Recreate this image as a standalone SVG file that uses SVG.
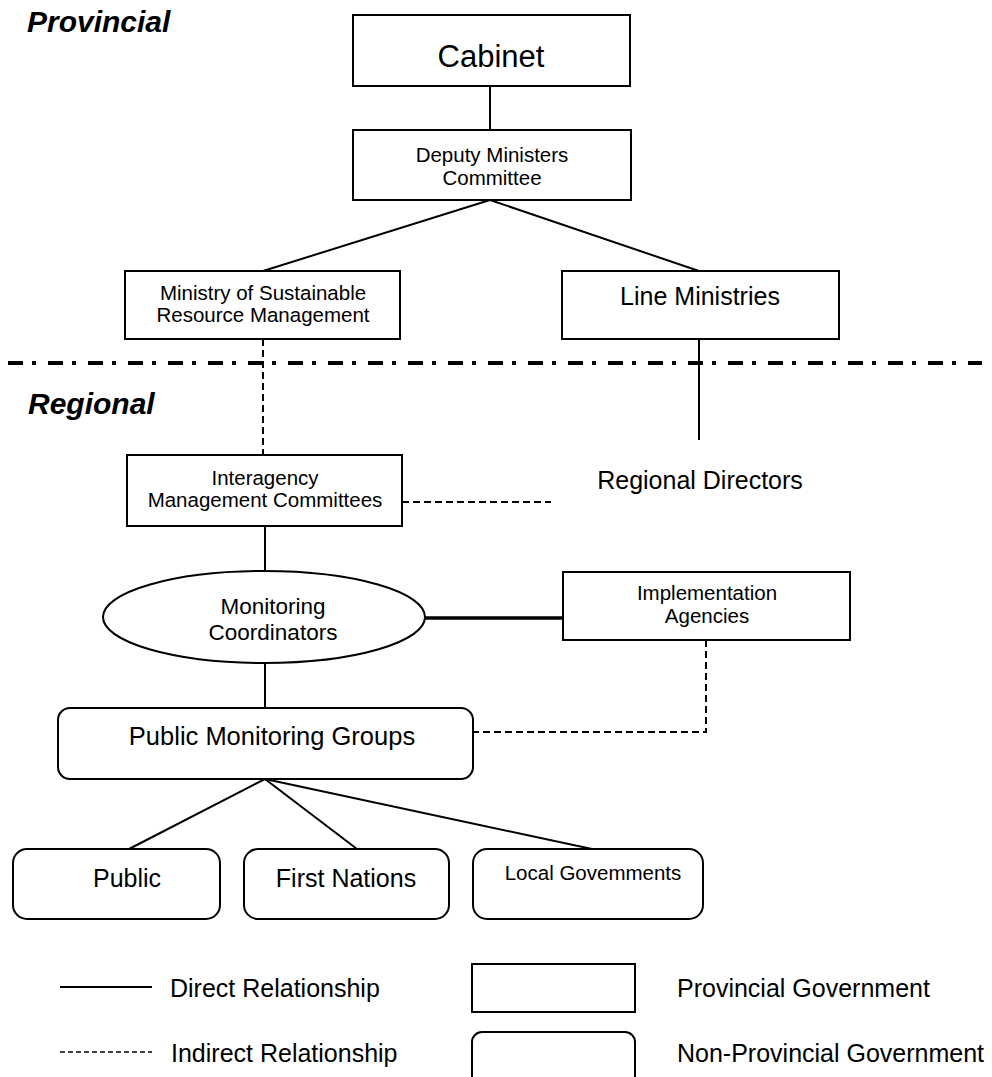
<svg xmlns="http://www.w3.org/2000/svg" width="992" height="1077" viewBox="0 0 992 1077">
<style>
text{font-family:"Liberation Sans",Arial,sans-serif;fill:#000}
.box{fill:#fff;stroke:#000;stroke-width:2}
.ln{stroke:#000;stroke-width:2;fill:none}
.thick{stroke:#000;stroke-width:3.5;fill:none}
.dash{stroke:#000;stroke-width:2;fill:none;stroke-dasharray:7 4}
.head{font-weight:bold;font-style:italic;font-size:30px}
.c{text-anchor:middle}
</style>
<rect width="992" height="1077" fill="#fff"/>
<text class="head" x="27" y="32">Provincial</text>
<text class="head" x="28" y="414">Regional</text>
<line x1="8" y1="363" x2="982" y2="363" stroke="#000" stroke-width="4" stroke-dasharray="15 9 4 12"/>
<g id="connectors">
<line class="ln" x1="490" y1="86" x2="490" y2="130"/>
<line class="ln" x1="490" y1="200" x2="263" y2="271"/>
<line class="ln" x1="490" y1="200" x2="699" y2="271"/>
<line class="dash" x1="263" y1="339" x2="263" y2="455"/>
<line class="ln" x1="699" y1="339" x2="699" y2="440"/>
<line class="dash" x1="402" y1="502" x2="551" y2="502"/>
<line class="ln" x1="265" y1="526" x2="265" y2="571"/>
<line class="thick" x1="425" y1="618" x2="563" y2="618"/>
<polyline class="dash" points="706,640 706,732 473,732"/>
<line class="ln" x1="265" y1="663" x2="265" y2="708"/>
<line class="ln" x1="265" y1="779" x2="129" y2="849"/>
<line class="ln" x1="265" y1="779" x2="357" y2="849"/>
<line class="ln" x1="265" y1="779" x2="592" y2="849"/>
</g>
<g id="cabinet"><rect class="box" x="353" y="15" width="277" height="71"/><text class="c" x="491" y="67" font-size="31">Cabinet</text></g>
<g id="deputy"><rect class="box" x="353" y="130" width="278" height="70"/><text class="c" x="492" y="162" font-size="20.5">Deputy Ministers</text><text class="c" x="492" y="185" font-size="20.5">Committee</text></g>
<g id="msrm"><rect class="box" x="125" y="271" width="275" height="68"/><text class="c" x="263" y="300" font-size="20.5">Ministry of Sustainable</text><text class="c" x="263" y="322" font-size="20.5">Resource Management</text></g>
<g id="line-ministries"><rect class="box" x="562" y="271" width="277" height="68"/><text class="c" x="700" y="305" font-size="25">Line Ministries</text></g>
<g id="regional-directors"><text class="c" x="700" y="489" font-size="25">Regional Directors</text></g>
<g id="interagency"><rect class="box" x="127" y="455" width="275" height="71"/><text class="c" x="265" y="485" font-size="20.5">Interagency</text><text class="c" x="265" y="507" font-size="20.5">Management Committees</text></g>
<g id="monitoring"><ellipse class="box" cx="264" cy="617" rx="161" ry="46"/><text class="c" x="273" y="614" font-size="22.5">Monitoring</text><text class="c" x="273" y="640" font-size="22.5">Coordinators</text></g>
<g id="implementation"><rect class="box" x="563" y="572" width="287" height="68"/><text class="c" x="707" y="600" font-size="20.5">Implementation</text><text class="c" x="707" y="623" font-size="20.5">Agencies</text></g>
<g id="pmg"><rect class="box" x="58" y="708" width="415" height="71" rx="12"/><text class="c" x="272" y="745" font-size="25.5">Public Monitoring Groups</text></g>
<g id="public"><rect class="box" x="13" y="849" width="207" height="70" rx="14"/><text class="c" x="127" y="887" font-size="25">Public</text></g>
<g id="first-nations"><rect class="box" x="244" y="849" width="205" height="70" rx="14"/><text class="c" x="346" y="887" font-size="25">First Nations</text></g>
<g id="local"><rect class="box" x="473" y="849" width="230" height="70" rx="14"/><text class="c" x="593" y="880" font-size="20.5">Local Govemments</text></g>
<g id="legend">
<line class="ln" x1="60" y1="987" x2="152" y2="987"/>
<text x="170" y="997" font-size="25">Direct Relationship</text>
<line x1="60" y1="1052" x2="152" y2="1052" stroke="#000" stroke-width="1.5" stroke-dasharray="5 3"/>
<text x="171" y="1062" font-size="25">Indirect Relationship</text>
<rect class="box" x="472" y="964" width="163" height="48"/>
<text x="677" y="997" font-size="25">Provincial Government</text>
<rect class="box" x="472" y="1032" width="163" height="60" rx="10"/>
<text x="677" y="1062" font-size="25">Non-Provincial Government</text>
</g>
</svg>
